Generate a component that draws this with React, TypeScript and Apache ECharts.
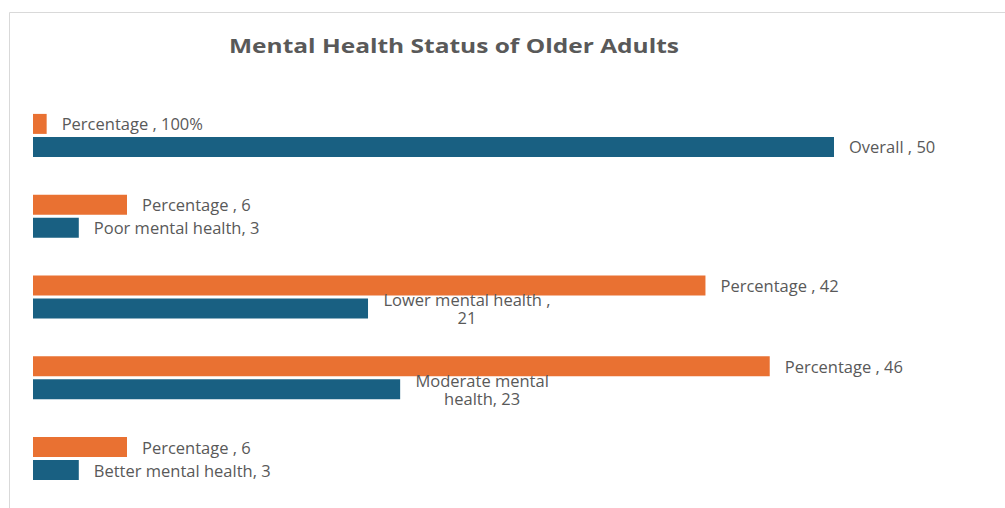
import React, { useEffect, useRef } from "react";
import * as echarts from "echarts";

const categories = [
  "Better mental health",
  "Moderate mental health",
  "Lower mental health",
  "Poor mental health",
  "Overall",
];
const counts = [3, 23, 21, 3, 50];
const percentages = [6, 46, 42, 6, 1];
const percentLabels = ["6", "46", "42", "6", "100%"];
const countLabels = [
  "Better mental health, 3",
  "Moderate mental\nhealth, 23",
  "Lower mental health ,\n21",
  "Poor mental health, 3",
  "Overall , 50",
];
const titleText = "Mental Health Status of Older Adults";

const ORANGE = "#E97132";
const BLUE = "#196082";
const TEXT = "#595959";
const FONT = "Open Sans";

export default function App() {
  const ref = useRef<HTMLDivElement>(null);
  useEffect(() => {
    if (!ref.current) return;
    const chart = echarts.init(ref.current, undefined, { renderer: "svg" });
    const labelBase = {
      show: true,
      position: "right",
      distance: 15,
      color: TEXT,
      fontFamily: FONT,
      fontSize: 16.5,
      lineHeight: 18,
    };
    const multiOffsets: Record<number, number> = { 1: 67, 2: 84 };
    chart.setOption({
      animation: false,
      graphic: [
        {
          type: "rect",
          shape: { x: 9.5, y: 12.5, width: 1100, height: 600 },
          style: { fill: "none", stroke: "#d9d9d9", lineWidth: 1 },
          silent: true,
        },
        {
          type: "text",
          x: 229,
          y: 45.5,
          scaleX: 1.225,
          style: {
            text: titleText,
            fill: TEXT,
            font: `bold 20px "${FONT}"`,
            textVerticalAlign: "middle",
            textAlign: "left",
          },
        },
      ],
      grid: { left: 33, width: 801, top: 95, height: 404 },
      xAxis: { type: "value", min: 0.15, max: 50, show: false },
      yAxis: {
        type: "category",
        data: categories,
        show: false,
      },
      series: [
        {
          type: "bar",
          name: "Percentage",
          barWidth: 20,
          barGap: "15%",
          clip: true,
          itemStyle: { color: ORANGE },
          data: percentages.map((v, i) => ({
            value: v,
            label: {
              ...labelBase,
              formatter: () => `Percentage , ${percentLabels[i]}`,
            },
          })),
        },
        {
          type: "bar",
          name: "Count",
          barWidth: 20,
          barGap: "15%",
          clip: true,
          itemStyle: { color: BLUE },
          data: counts.map((v, i) => ({
            value: v,
            label:
              multiOffsets[i] !== undefined
                ? {
                    ...labelBase,
                    align: "center",
                    offset: [multiOffsets[i], 0],
                    formatter: () => countLabels[i],
                  }
                : { ...labelBase, formatter: () => countLabels[i] },
          })),
        },
      ],
    });
    return () => chart.dispose();
  }, []);
  return (
    <div
      ref={ref}
      style={{ position: "fixed", left: 0, top: 0, width: 1005, height: 508, background: "#fff" }}
    />
  );
}
